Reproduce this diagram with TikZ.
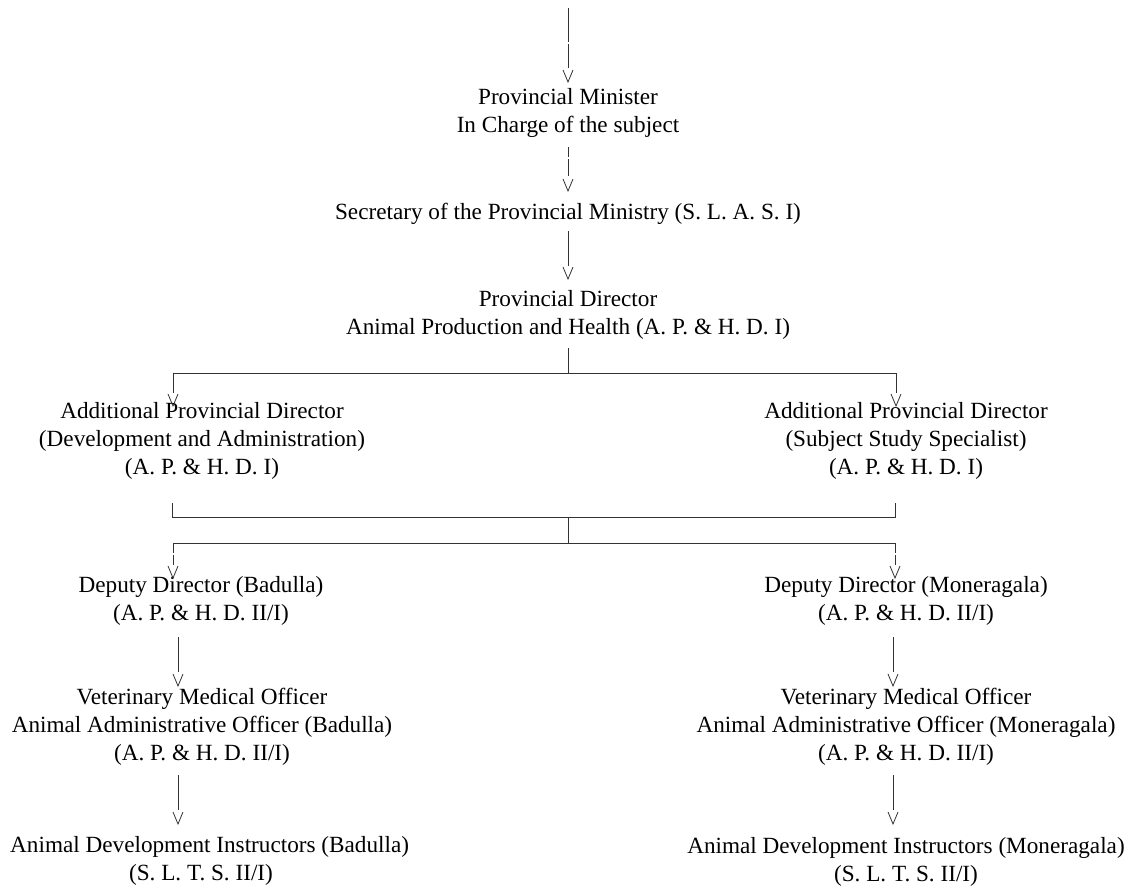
\documentclass[tikz,border=0pt]{standalone}
\usepackage{fontspec}
\setmainfont{Liberation Serif}
\newcommand{\orgfont}{\fontsize{23.2pt}{28pt}\selectfont}
\begin{document}
\begin{tikzpicture}[x=1pt,y=-1pt,
  lbl/.style={font=\orgfont, align=center, anchor=north, inner sep=0pt, execute at begin node=\strut},
  lblw/.style={font=\orgfont, anchor=north west, inner sep=0pt, execute at begin node=\strut},
  ln/.style={line width=1pt, black!80},
  vhead/.pic={\draw[line width=0.8pt, black!80] (-5,-12) -- (0,0) -- (5,-12);}
]
\useasboundingbox (0,0) rectangle (1143,887);
% ---------- text nodes ----------
\node[lbl] (pm)   at (568, 88.4)  {Provincial Minister\\In Charge of the subject};
\node[lbl] (sec)  at (568,199.4)  {Secretary of the Provincial Ministry (S. L. A. S. I)};
\node[lbl] (pd)   at (568,290.4)  {Provincial Director\\Animal Production and Health (A. P. \& H. D. I)};
\node[lbl] (apdl) at (202,402.4)  {Additional Provincial Director\\(Development and Administration)\\(A. P. \& H. D. I)};
\node[lbl] (apdr) at (906,402.4)  {Additional Provincial Director\\(Subject Study Specialist)\\(A. P. \& H. D. I)};
\node[lbl] (ddl)  at (201,576.4)  {Deputy Director (Badulla)\\(A. P. \& H. D. II/I)};
\node[lbl] (ddr)  at (906,576.4)  {Deputy Director (Moneragala)\\(A. P. \& H. D. II/I)};
\node[lbl] (vml)  at (202,688.4)  {Veterinary Medical Officer\\Animal Administrative Officer (Badulla)\\(A. P. \& H. D. II/I)};
\node[lbl] (vmr)  at (906,688.4)  {Veterinary Medical Officer\\Animal Administrative Officer (Moneragala)\\(A. P. \& H. D. II/I)};
\node[lblw] (adl) at (10,832.4)   {Animal Development Instructors (Badulla)};
\node[lbl] (adlb) at (201,860.4)  {(S. L. T. S. II/I)};
\node[lbl] (adr)  at (906,837.4)  {Animal Development Instructors (Moneragala)\\(S. L. T. S. II/I)};
% ---------- connector points ----------
\coordinate (a1s) at (568,8);   \coordinate (a1g) at (568,42); \coordinate (a1h) at (568,44); \coordinate (a1e) at (568,68); \coordinate (a1t) at (568,82);
\coordinate (a2s) at (568,147); \coordinate (a2g) at (568,157); \coordinate (a2h) at (568,159); \coordinate (a2e) at (568,176); \coordinate (a2t) at (568,191);
\coordinate (a3s) at (568,231); \coordinate (a3e) at (568,266); \coordinate (a3t) at (568,279);
\coordinate (b0) at (568,348); \coordinate (b1) at (568,373);
\coordinate (bl) at (173,373);  \coordinate (br) at (896,373);
\coordinate (ble) at (173,393); \coordinate (bre) at (896,393);
\coordinate (blt) at (173,406); \coordinate (brt) at (896,406);
\coordinate (cl0) at (172,503); \coordinate (cl1) at (172,517);
\coordinate (cr0) at (895,503); \coordinate (cr1) at (895,517);
\coordinate (cm0) at (568,517); \coordinate (cm1) at (568,543);
\coordinate (dl) at (173,543);  \coordinate (dr) at (895,543);
\coordinate (dlg) at (173,553); \coordinate (dlh) at (173,555); \coordinate (dle) at (173,565); \coordinate (dlt) at (173,578);
\coordinate (drg) at (895,553); \coordinate (drh) at (895,555); \coordinate (dre) at (895,565); \coordinate (drt) at (895,578);
\coordinate (el0) at (178,637); \coordinate (el1) at (178,672); \coordinate (elt) at (178,686);
\coordinate (er0) at (893,637); \coordinate (er1) at (893,672); \coordinate (ert) at (893,686);
\coordinate (fl0) at (178,775); \coordinate (fl1) at (178,810); \coordinate (flt) at (178,824);
\coordinate (fr0) at (893,775); \coordinate (fr1) at (893,810); \coordinate (frt) at (893,824);
% ---------- connectors ----------
\draw[ln] (a1s) -- (a1g); \draw[ln] (a1h) -- (a1e); \pic at (a1t) {vhead};
\draw[ln] (a2s) -- (a2g); \draw[ln] (a2h) -- (a2e); \pic at (a2t) {vhead};
\draw[ln] (a3s) -- (a3e); \pic at (a3t) {vhead};
\draw[ln] (b0) -- (b1);
\draw[ln] (bl) -- (br);
\draw[ln] (bl) -- (ble); \pic at (blt) {vhead};
\draw[ln] (br) -- (bre); \pic at (brt) {vhead};
\draw[ln] (cl0) -- (cl1) -- (cr1) -- (cr0);
\draw[ln] (cm0) -- (cm1);
\draw[ln] (dl) -- (dr);
\draw[ln] (dl) -- (dlg); \draw[ln] (dlh) -- (dle); \pic at (dlt) {vhead};
\draw[ln] (dr) -- (drg); \draw[ln] (drh) -- (dre); \pic at (drt) {vhead};
\draw[ln] (el0) -- (el1); \pic at (elt) {vhead};
\draw[ln] (er0) -- (er1); \pic at (ert) {vhead};
\draw[ln] (fl0) -- (fl1); \pic at (flt) {vhead};
\draw[ln] (fr0) -- (fr1); \pic at (frt) {vhead};
\end{tikzpicture}
\end{document}
